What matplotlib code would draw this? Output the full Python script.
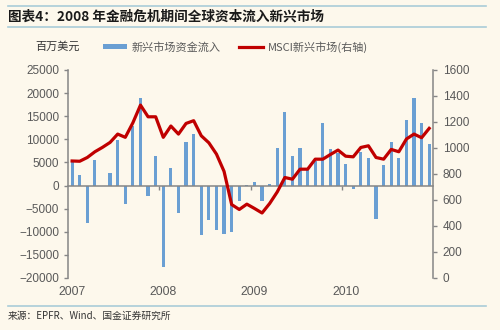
import numpy as np
import matplotlib
matplotlib.use("Agg")
import matplotlib.pyplot as plt
import matplotlib.transforms as mtransforms

plt.rcParams['font.family'] = ['Noto Sans CJK SC', 'DejaVu Sans']

FUNDO = "#FDF8EC"
AZUL = "#6A9FD3"
VERMELHO = "#C00000"
CINZA = "#868686"
TEXTO = "#595959"
LINHA_MOLDURA = "#A9CCD8"

# dados mensais jan/2007 - dez/2010
anos = ["2007", "2008", "2009", "2010"]
fluxos = [5400, 2300, -8000, 5600, 0, 2700, 9800, -3900, 12800, 19000, -2300, 6400,
          -17700, 3900, -6000, 9500, 11100, -10700, -7400, -9600, -10500, -10000, -3300, 150,
          800, -3300, 300, 8200, 15900, 6500, 8200, 3400, 5300, 13600, 8000, 7100,
          4600, -700, 7300, 5900, -7200, 4500, 9400, 5900, 14100, 19000, 13600, 8900]
msci = [900, 898, 927, 971, 1005, 1043, 1107, 1082, 1194, 1330, 1240, 1240,
        1082, 1169, 1107, 1189, 1210, 1094, 1040, 953, 820, 565, 527, 568,
        535, 500, 573, 662, 773, 760, 837, 837, 914, 914, 950, 984,
        937, 932, 1004, 1017, 927, 914, 989, 971, 1069, 1107, 1079, 1151]

x = np.arange(len(fluxos))

fig = plt.figure(figsize=(5, 3.3), dpi=100, facecolor=FUNDO)
ax = fig.add_axes([0.1366, 0.1576, 0.7294, 0.6303])
ax.set_facecolor(FUNDO)
ax2 = ax.twinx()

barras = ax.bar(x, fluxos, width=0.42, color=AZUL, zorder=2,
                label="新兴市场资金流入")
linha, = ax2.plot(x, msci, color=VERMELHO, linewidth=2.3, zorder=3,
                  label="MSCI新兴市场(右轴)")

ax.set_xlim(-0.5, len(fluxos) - 0.5)
ax.set_ylim(-20000, 25000)
ax.set_yticks(np.arange(-20000, 25001, 5000))
ax2.set_ylim(0, 1600)
ax2.set_yticks(np.arange(0, 1601, 200))

for s in ["top", "right"]:
    ax.spines[s].set_visible(False)
for s in ["top", "left", "bottom"]:
    ax2.spines[s].set_visible(False)
ax.spines["left"].set_color(CINZA)
ax.spines["left"].set_linewidth(1.1)
ax2.spines["right"].set_color(CINZA)
ax2.spines["right"].set_linewidth(1.1)
ax.spines["bottom"].set_position(("data", 0))
ax.spines["bottom"].set_color(CINZA)
ax.spines["bottom"].set_linewidth(1.1)
ax.spines["bottom"].set_zorder(4)

# marcas de ano nos limites entre categorias
ax.set_xticks(np.arange(11.5, len(fluxos) - 1, 12))
ax.tick_params(axis="x", length=3, width=1, color=CINZA, labelbottom=False)
ax.tick_params(axis="y", length=3, width=1, color=CINZA, pad=3.5,
               labelsize=8.5, labelcolor=TEXTO)
ax2.tick_params(axis="y", length=3, width=1, color=CINZA, pad=4,
                labelsize=8.5, labelcolor=TEXTO)
for lb in ax.get_yticklabels() + ax2.get_yticklabels():
    lb.set_fontfamily("Liberation Sans")

trans = mtransforms.blended_transform_factory(ax.transData, ax.transAxes)
for n, ano in enumerate(anos):
    ax.text(n * 12, -0.065, ano, transform=trans, ha="center", va="center",
            fontsize=8.8, color=TEXTO, fontfamily="Liberation Sans")

# titulo e molduras
fig.text(0.016, 0.951, "图表4：2008 年金融危机期间全球资本流入新兴市场",
         fontsize=9.8, fontweight="bold", color="#1a1a1a", va="center")
for yy in [0.982, 0.918, 0.073]:
    fig.add_artist(plt.Line2D([0.016, 0.972], [yy, yy], color=LINHA_MOLDURA,
                              linewidth=1.2))
fig.text(0.016, 0.042, "来源：EPFR、Wind、国金证券研究所", fontsize=7,
         color="#333333", va="center")

fig.text(0.115, 0.858, "百万美元", fontsize=8, color="#333333",
         ha="center", va="center")
fig.legend(handles=[barras, linha], loc="center left",
           bbox_to_anchor=(0.205, 0.858), ncol=2, frameon=False,
           fontsize=8, labelcolor=TEXTO, handlelength=2.2, handleheight=0.3,
           handletextpad=0.45, columnspacing=1.6, borderpad=0, borderaxespad=0)

fig.savefig("out.png", dpi=100, facecolor=FUNDO)
